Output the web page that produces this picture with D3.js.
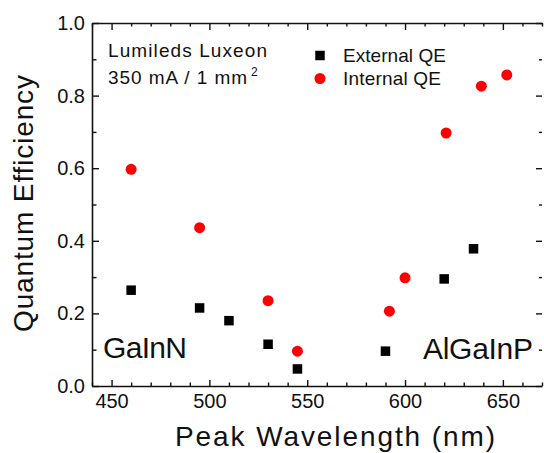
<!DOCTYPE html>
<html>
<head>
<meta charset="utf-8">
<script src="https://cdn.jsdelivr.net/npm/d3@7"></script>
<style>
  html, body { margin: 0; padding: 0; background: #fff; }
  svg { display: block; font-family: "Liberation Sans", Arial, sans-serif; }
</style>
</head>
<body>
<svg id="chart" width="544" height="453"></svg>
<script>
// External quantum efficiency (black squares)
const extWavelength = [460, 495, 510, 530, 545, 590, 620, 635];
const extQE         = [0.264, 0.215, 0.180, 0.115, 0.047, 0.096, 0.295, 0.378];

// Internal quantum efficiency (red dots)
const intWavelength = [460, 495, 530, 545, 592, 600, 621, 639, 652];
const intQE         = [0.597, 0.436, 0.235, 0.096, 0.206, 0.298, 0.697, 0.826, 0.857];

// Axis ticks
const xMajorTicks = [450, 500, 550, 600, 650];
const xMinorTicks = d3.range(440, 671, 10).filter(v => v % 50 !== 0);
const yMajorTicks = [0.0, 0.2, 0.4, 0.6, 0.8, 1.0];
const yMinorTicks = [0.1, 0.3, 0.5, 0.7, 0.9];

const plot = { left: 92, right: 542, top: 23, bottom: 386 };
const ink = "#111";

const svg = d3.select("#chart");

const x = d3.scaleLinear().domain([440, 670]).range([plot.left, plot.right]);
const y = d3.scaleLinear().domain([0, 1]).range([plot.bottom, plot.top]);

function styleAxis(g, keepDomain) {
  g.selectAll(".tick line").attr("stroke", ink).attr("stroke-width", 1.4);
  g.selectAll(".domain").attr("stroke", ink).attr("stroke-width", 1.6);
  if (!keepDomain) g.select(".domain").remove();
  g.selectAll("text").attr("fill", ink).attr("font-size", 20);
}

// bottom axis (labels), ticks point inward
svg.append("g")
  .attr("transform", `translate(0,${plot.bottom})`)
  .call(d3.axisBottom(x).tickValues(xMajorTicks).tickSizeInner(-6).tickSizeOuter(0).tickPadding(8))
  .call(g => styleAxis(g, true));
svg.append("g")
  .attr("transform", `translate(0,${plot.bottom})`)
  .call(d3.axisBottom(x).tickValues(xMinorTicks).tickSizeInner(-3.5).tickSizeOuter(0).tickFormat(""))
  .call(g => styleAxis(g, false));

// top axis, no labels
svg.append("g")
  .attr("transform", `translate(0,${plot.top})`)
  .call(d3.axisTop(x).tickValues(xMajorTicks).tickSizeInner(-7).tickSizeOuter(0).tickFormat(""))
  .call(g => styleAxis(g, true));
svg.append("g")
  .attr("transform", `translate(0,${plot.top})`)
  .call(d3.axisTop(x).tickValues(xMinorTicks).tickSizeInner(-3.5).tickSizeOuter(0).tickFormat(""))
  .call(g => styleAxis(g, false));

// left axis (labels)
svg.append("g")
  .attr("transform", `translate(${plot.left},0)`)
  .call(d3.axisLeft(y).tickValues(yMajorTicks).tickSizeInner(-7).tickSizeOuter(0).tickPadding(7)
        .tickFormat(d3.format(".1f")))
  .call(g => styleAxis(g, true));
svg.append("g")
  .attr("transform", `translate(${plot.left},0)`)
  .call(d3.axisLeft(y).tickValues(yMinorTicks).tickSizeInner(-4.5).tickSizeOuter(0).tickFormat(""))
  .call(g => styleAxis(g, false));

// right axis, ticks only
svg.append("g")
  .attr("transform", `translate(${plot.right},0)`)
  .call(d3.axisRight(y).tickValues(yMajorTicks).tickSizeInner(-6).tickSizeOuter(0).tickFormat(""))
  .call(g => styleAxis(g, false));
svg.append("g")
  .attr("transform", `translate(${plot.right},0)`)
  .call(d3.axisRight(y).tickValues(yMinorTicks).tickSizeInner(-3).tickSizeOuter(0).tickFormat(""))
  .call(g => styleAxis(g, false));

// axis titles
svg.append("text")
  .attr("x", 175).attr("y", 446)
  .attr("font-size", 28).attr("fill", ink)
  .attr("textLength", 320).attr("lengthAdjust", "spacing")
  .text("Peak Wavelength (nm)");

svg.append("text")
  .attr("transform", "translate(33,332) rotate(-90)")
  .attr("font-size", 28).attr("fill", ink)
  .attr("textLength", 257).attr("lengthAdjust", "spacing")
  .text("Quantum Efficiency");

// data marks
const sq = 9.5;
svg.append("g").selectAll("rect")
  .data(extWavelength.map((w, i) => ({ w, v: extQE[i] })))
  .join("rect")
  .attr("x", d => x(d.w) - sq / 2)
  .attr("y", d => y(d.v) - sq / 2)
  .attr("width", sq).attr("height", sq)
  .attr("fill", "#000");

svg.append("g").selectAll("circle")
  .data(intWavelength.map((w, i) => ({ w, v: intQE[i] })))
  .join("circle")
  .attr("cx", d => x(d.w))
  .attr("cy", d => y(d.v))
  .attr("r", 5.5)
  .attr("fill", "#ff0000");

// device note
svg.append("text")
  .attr("x", 108).attr("y", 57)
  .attr("font-size", 19).attr("fill", ink)
  .attr("textLength", 159).attr("lengthAdjust", "spacing")
  .text("Lumileds Luxeon");
svg.append("text")
  .attr("x", 108).attr("y", 84)
  .attr("font-size", 19).attr("fill", ink)
  .attr("textLength", 139).attr("lengthAdjust", "spacing")
  .text("350 mA / 1 mm");
svg.append("text")
  .attr("x", 251).attr("y", 76)
  .attr("font-size", 12).attr("fill", ink)
  .text("2");

// legend
svg.append("rect")
  .attr("x", 320 - sq / 2).attr("y", 55.5 - sq / 2)
  .attr("width", sq).attr("height", sq).attr("fill", "#000");
svg.append("text")
  .attr("x", 343).attr("y", 62)
  .attr("font-size", 19).attr("fill", ink)
  .attr("textLength", 103).attr("lengthAdjust", "spacing")
  .text("External QE");
svg.append("circle")
  .attr("cx", 320).attr("cy", 78.5).attr("r", 5.5).attr("fill", "#ff0000");
svg.append("text")
  .attr("x", 343).attr("y", 84.5)
  .attr("font-size", 19).attr("fill", ink)
  .attr("textLength", 98).attr("lengthAdjust", "spacing")
  .text("Internal QE");

// material system labels
svg.append("text")
  .attr("x", 103).attr("y", 358)
  .attr("font-size", 30).attr("fill", ink)
  .attr("textLength", 84).attr("lengthAdjust", "spacing")
  .text("GaInN");
svg.append("text")
  .attr("x", 423).attr("y", 359)
  .attr("font-size", 30).attr("fill", ink)
  .attr("textLength", 110).attr("lengthAdjust", "spacing")
  .text("AlGaInP");
</script>
</body>
</html>
